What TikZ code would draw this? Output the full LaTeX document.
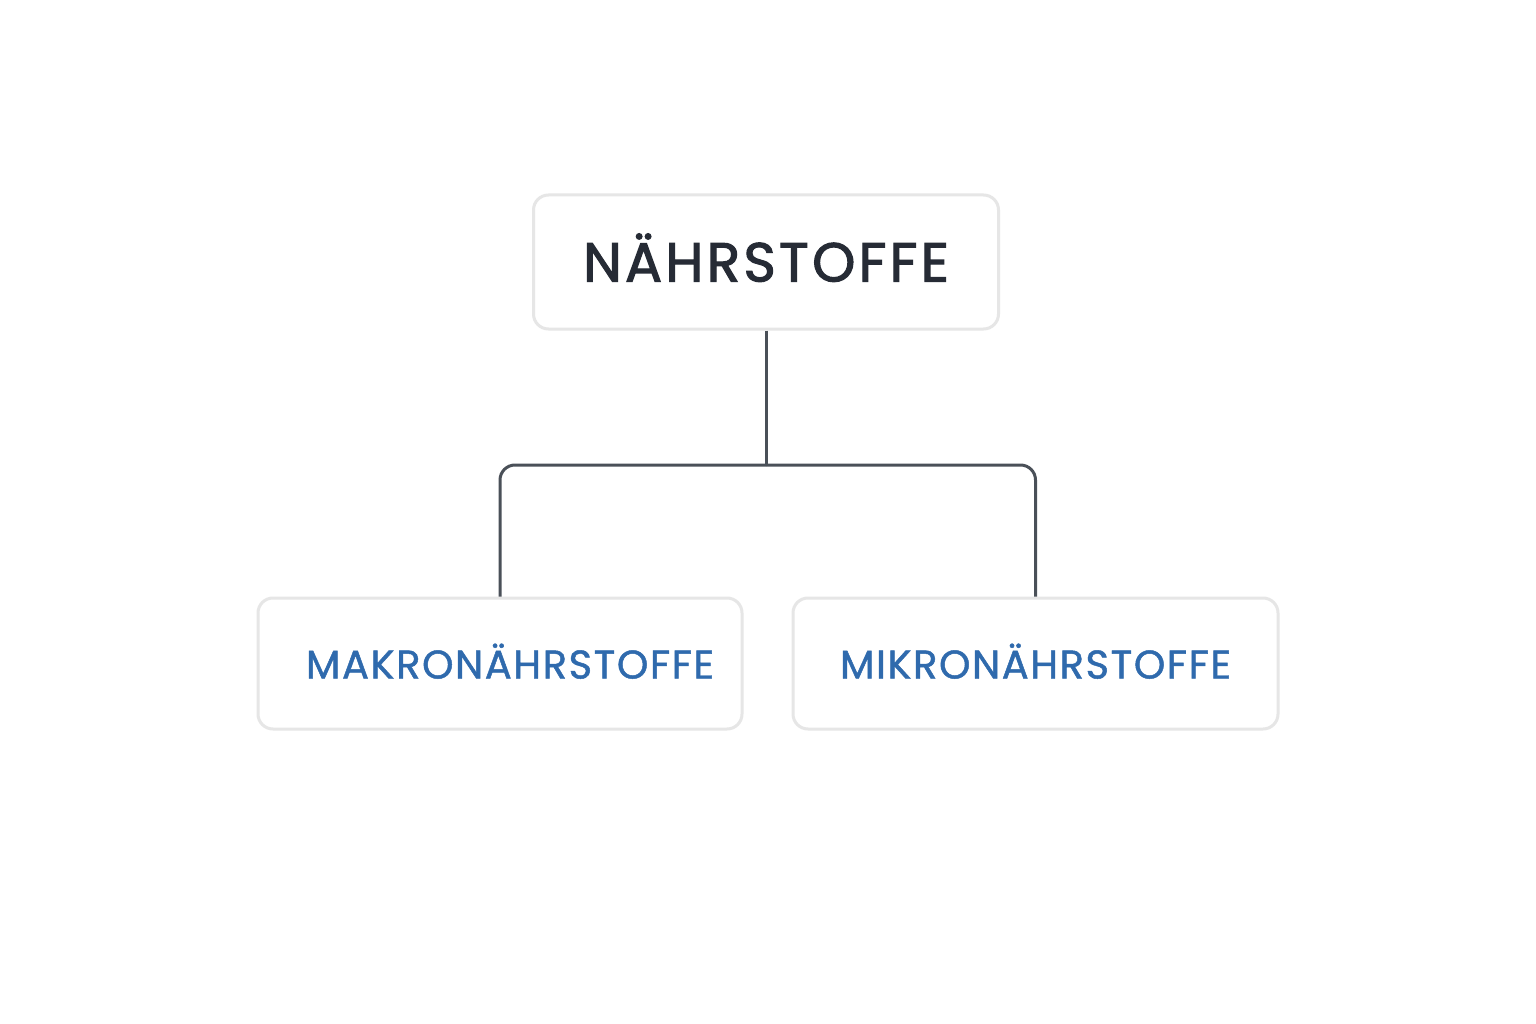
\documentclass[tikz,border=0pt]{standalone}
\usepackage{fontspec}
\setmainfont{Poppins}
\newfontfamily\wide{Poppins}[LetterSpace=6,FakeBold=2]
\newfontfamily\narrow{Poppins}[LetterSpace=4,FakeBold=1.2]
\definecolor{boxline}{HTML}{E6E6E6}
\definecolor{linkgray}{HTML}{4A5058}
\definecolor{titledark}{HTML}{262B35}
\definecolor{subblue}{HTML}{2F6AAD}
\begin{document}
\begin{tikzpicture}[x=1pt,y=-1pt]

\tikzstyle{box} = [draw=boxline,line width=3pt,rounded corners=15pt,fill=white,inner sep=0pt];
\tikzstyle{link} = [draw=linkgray,line width=3pt];

\useasboundingbox[fill=white] (0,0) rectangle (1536,1024);

\node[box,minimum width=465pt,minimum height=134pt,text=titledark] (v1) at (766,262) {\wide\fontsize{55}{60}\selectfont\raisebox{-19.5pt}[0pt][0pt]{NÄHRSTOFFE}};
\node[box,minimum width=484pt,minimum height=131pt,text=subblue] (v2) at (500,663.5) {\hspace{20pt}\narrow\fontsize{40}{46}\selectfont\raisebox{-15pt}[0pt][0pt]{MAKRONÄHRSTOFFE}};
\node[box,minimum width=485pt,minimum height=131pt,text=subblue] (v3) at (1035.5,663.5) {\narrow\fontsize{40}{46}\selectfont\raisebox{-15pt}[0pt][0pt]{MIKRONÄHRSTOFFE}};

\coordinate (v4) at (766,465);

\draw[link] (v1) -- (v4);
\draw[link,rounded corners=15pt] (v4) -| (v2);
\draw[link,rounded corners=15pt] (v4) -| (v3);
\end{tikzpicture}
\end{document}
